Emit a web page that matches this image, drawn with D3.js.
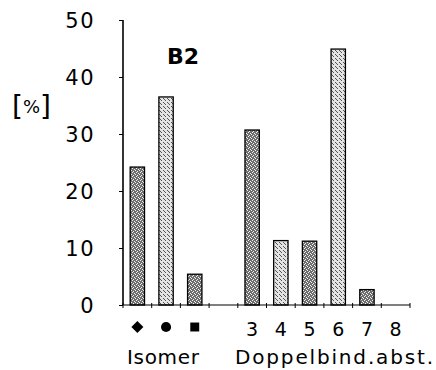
<!DOCTYPE html>
<html><head><meta charset="utf-8">
<script src="https://cdn.jsdelivr.net/npm/d3@7"></script>
<style>body{margin:0;background:#fff}svg{display:block}text{font-family:"DejaVu Sans",sans-serif;fill:#000}</style>
</head><body>
<script>
const categories = ["iso1","iso2","iso3","gap","3","4","5","6","7","8"];
const catLabels = ["","","","","3","4","5","6","7","8"];
const values = [24.2, 36.5, 5.4, null, 30.7, 11.3, 11.2, 44.9, 2.7, 0];
const tones = ["dark","light","dark",null,"dark","light","dark","light","dark",null];
const yTicks = [0,10,20,30,40,50];
const isoSymbols = ["diamond","circle","square"];

const W=436,H=370;
const svg=d3.select("body").append("svg").attr("width",W).attr("height",H);
const defs=svg.append("defs");
function stip(id,bg,dot,pts){
  const p=defs.append("pattern").attr("id",id).attr("patternUnits","userSpaceOnUse").attr("width",4).attr("height",4);
  p.append("rect").attr("width",4).attr("height",4).attr("fill",bg);
  pts.forEach(([x,y])=>p.append("rect").attr("x",x).attr("y",y).attr("width",1).attr("height",1).attr("fill",dot));
}
stip("dark","#6e6e6e","#f2f2f2",[[0,0],[2,1],[1,3],[3,2]]);
stip("light","#e4e4e4","#555",[[1,0],[3,2],[0,3]]);

const x=d3.scaleBand().domain(categories).range([123,410]).padding(0);
const y=d3.scaleLinear().domain([0,50]).range([305,20]);
const bw=x.bandwidth()*0.5;

// bars
svg.append("g").selectAll("rect").data(categories.map((c,i)=>({c,v:values[i],t:tones[i]})).filter(d=>d.v!==null&&d.v>0))
 .join("rect")
 .attr("x",d=>x(d.c)+x.bandwidth()/2-bw/2).attr("width",bw)
 .attr("y",d=>y(d.v)).attr("height",d=>y(0)-y(d.v))
 .attr("fill",d=>`url(#${d.t})`).attr("stroke","#000").attr("stroke-width",1.3);

// y axis
const ya=svg.append("g").attr("transform","translate(123,0)")
 .call(d3.axisLeft(y).tickValues(yTicks).tickSize(4).tickPadding(24));
ya.select(".domain").attr("stroke","#000").attr("stroke-width",1.6).attr("d",`M-0,${y(50)}V${y(0)}`);
ya.selectAll("text").attr("font-size",21).attr("dy","0.36em").attr("letter-spacing",1.5);

// x axis with ticks at band boundaries
const bounds=categories.map(c=>x(c)).concat([x.range()[1]]);
svg.append("line").attr("x1",123).attr("x2",410).attr("y1",y(0)).attr("y2",y(0)).attr("stroke","#000").attr("stroke-width",1.2);
svg.append("g").selectAll("line").data(bounds).join("line")
 .attr("x1",d=>d).attr("x2",d=>d).attr("y1",y(0)-2).attr("y2",y(0)+3).attr("stroke","#000").attr("stroke-width",1);

// category labels
svg.append("g").selectAll("text").data(categories.map((c,i)=>({c,l:catLabels[i]})).filter(d=>d.l))
 .join("text").attr("x",d=>x(d.c)+x.bandwidth()/2).attr("y",336).attr("text-anchor","middle")
 .attr("font-size",19).text(d=>d.l);

// isomer symbols
const symG=svg.append("g");
isoSymbols.forEach((s,i)=>{
  const cx=x(categories[i])+x.bandwidth()/2, cy=327;
  if(s==="diamond") symG.append("path").attr("transform",`translate(${cx},${cy}) rotate(45)`).attr("d",d3.symbol(d3.symbolSquare,72)());
  else if(s==="circle") symG.append("path").attr("transform",`translate(${cx},${cy})`).attr("d",d3.symbol(d3.symbolCircle,80)());
  else symG.append("path").attr("transform",`translate(${cx},${cy})`).attr("d",d3.symbol(d3.symbolSquare,80)());
});

svg.append("text").attr("x",163).attr("y",364).attr("text-anchor","middle").attr("font-size",20).attr("textLength",72).text("Isomer");
svg.append("text").attr("x",235).attr("y",364).attr("font-size",20).attr("textLength",198).attr("lengthAdjust","spacing").text("Doppelbind.abst.");
svg.append("text").attr("x",167).attr("y",64).attr("font-size",22).attr("font-weight","bold").text("B2");
const pct=svg.append("text").attr("x",12).attr("y",116);
pct.append("tspan").attr("font-size",28).text("[");
pct.append("tspan").attr("font-size",18).attr("dy",-3).text("%");
pct.append("tspan").attr("font-size",28).attr("dy",3).text("]");
</script>
</body></html>
